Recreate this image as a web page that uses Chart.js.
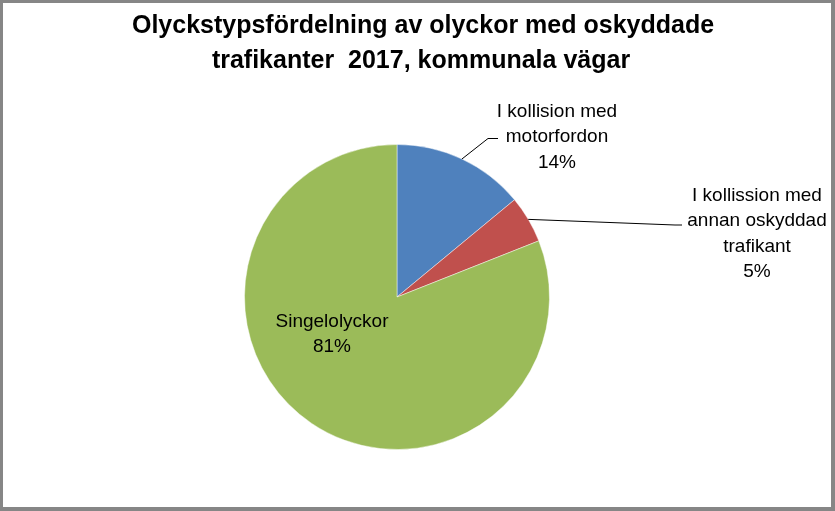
<!DOCTYPE html>
<html>
<head>
<meta charset="utf-8">
<script src="https://cdn.jsdelivr.net/npm/chart.js@4.4.0/dist/chart.umd.min.js"></script>
<style>
html,body{margin:0;padding:0;background:#fff;}
#wrap{position:relative;width:835px;height:511px;}
canvas{display:block;}
</style>
</head>
<body>
<div id="wrap"><canvas id="c" width="835" height="511"></canvas></div>
<script>
const titleLines = ['Olyckstypsfördelning av olyckor med oskyddade', 'trafikanter  2017, kommunala vägar'];
const categories = [['I kollision med', 'motorfordon'], ['I kollission med', 'annan oskyddad', 'trafikant'], ['Singelolyckor']];
const values = [14, 5, 81];
const colors = ['#4F81BD', '#C0504D', '#9BBB59'];

// label layout relative to pie centre: text centre x offset, first baseline y offset, leader end
const labelLayout = [
  {dx: 160, dy: -180, outside: true, endDx: -59, endDy: 21.5, hlen: 10},
  {dx: 360, dy: -96, outside: true, endDx: -75, endDy: 24, hlen: 7},
  {dx: -65, dy: 30, outside: false}
];

const FONT = '"Liberation Sans", Arial, sans-serif';

const decor = {
  id: 'decor',
  beforeDraw(chart) {
    const ctx = chart.ctx;
    ctx.save();
    ctx.fillStyle = '#fff';
    ctx.fillRect(0, 0, chart.width, chart.height);
    ctx.restore();
  },
  afterDraw(chart) {
    const ctx = chart.ctx;
    const W = chart.width, H = chart.height;
    ctx.save();
    // frame
    ctx.fillStyle = '#868686';
    ctx.fillRect(0, 0, W, 3);
    ctx.fillRect(0, 0, 3, H);
    ctx.fillRect(W - 4, 0, 4, H);
    ctx.fillRect(0, H - 4, W, 4);
    // title
    ctx.fillStyle = '#000';
    ctx.font = 'bold 25px ' + FONT;
    ctx.textAlign = 'center';
    ctx.textBaseline = 'alphabetic';
    ctx.fillText(titleLines[0], 423, 33);
    ctx.fillText(titleLines[1], 421, 68);
    // labels
    const meta = chart.getDatasetMeta(0);
    const total = values.reduce((a, b) => a + b, 0);
    ctx.font = '19px ' + FONT;
    meta.data.forEach((arc, i) => {
      const p = arc.getProps(['x', 'y', 'startAngle', 'endAngle', 'outerRadius'], true);
      const L = labelLayout[i];
      const lines = categories[i].concat([Math.round(values[i] / total * 100) + '%']);
      const tx = p.x + L.dx, ty = p.y + L.dy;
      const lh = 25.3;
      ctx.fillStyle = '#000';
      ctx.textAlign = 'center';
      ctx.textBaseline = 'alphabetic';
      lines.forEach((t, k) => ctx.fillText(t, tx, ty + k * lh));
      if (L.outside) {
        const mid = (p.startAngle + p.endAngle) / 2;
        const sx = p.x + Math.cos(mid) * p.outerRadius;
        const sy = p.y + Math.sin(mid) * p.outerRadius;
        const ex = tx + L.endDx, ey = ty + L.endDy;
        ctx.strokeStyle = '#000';
        ctx.lineWidth = 1;
        ctx.beginPath();
        ctx.moveTo(sx, sy);
        ctx.lineTo(ex - L.hlen, ey);
        ctx.lineTo(ex, ey);
        ctx.stroke();
      }
    });
    ctx.restore();
  }
};

new Chart(document.getElementById('c'), {
  type: 'pie',
  data: {
    labels: categories.map(c => c.join(' ')),
    datasets: [{
      data: values,
      backgroundColor: colors,
      borderColor: 'rgba(255,255,255,0.45)',
      borderWidth: 1
    }]
  },
  options: {
    responsive: false,
    animation: false,
    devicePixelRatio: 1,
    layout: {padding: {top: 144, bottom: 61, left: 244, right: 285}},
    plugins: {legend: {display: false}, tooltip: {enabled: false}, title: {display: false}}
  },
  plugins: [decor]
});
</script>
</body>
</html>
